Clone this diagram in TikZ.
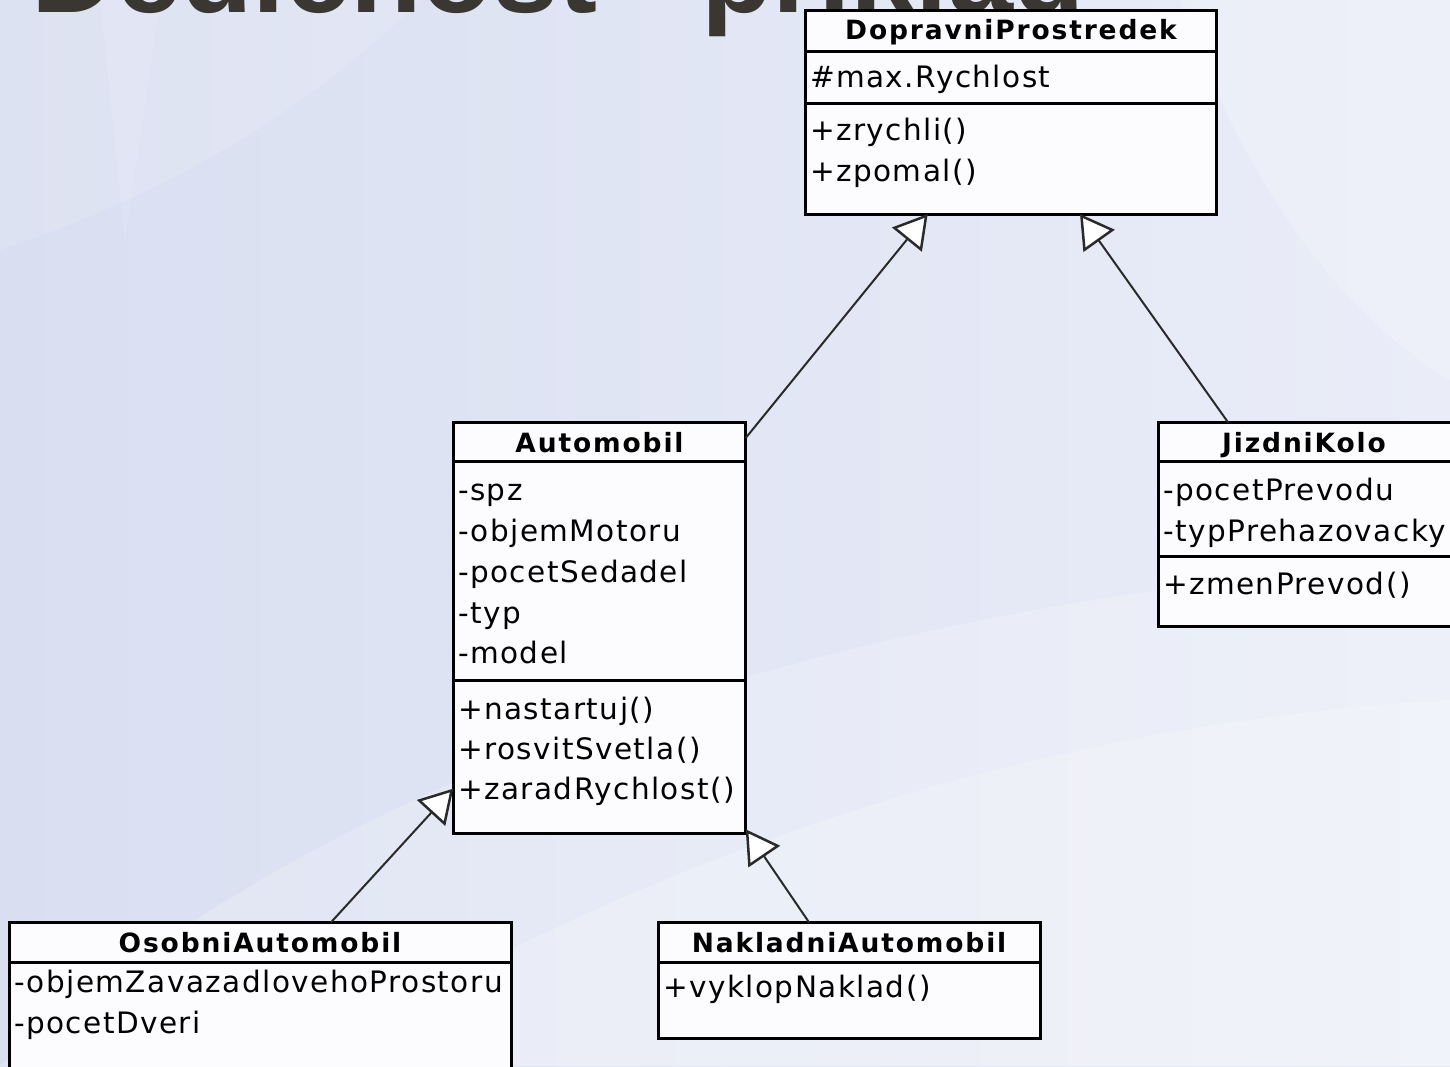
\documentclass[tikz,border=0pt]{standalone}
\usepackage{fontspec}
\setmainfont{DejaVu Sans}
\newfontfamily\titlefont{Liberation Sans}
\newfontfamily\umlfont{DejaVu Sans}[LetterSpace=5]
\newfontfamily\umlheadfont{DejaVu Sans}[LetterSpace=7]
\usetikzlibrary{arrows.meta,calc}

\definecolor{bgleft}{HTML}{D9DFF1}
\definecolor{bgright}{HTML}{EAEDF8}
\definecolor{titlegray}{HTML}{3A3733}
\definecolor{boxfill}{HTML}{FCFCFE}
\definecolor{linkgray}{HTML}{2A2A2A}

\tikzset{
  classbox/.style={draw=black, fill=boxfill, line width=3pt, inner sep=0pt,
    outer sep=0pt, anchor=north west},
  divider/.style={draw=black, line width=3pt},
  member/.style={anchor=base west, inner sep=0pt, outer sep=0pt,
    font=\umlfont\fontsize{29.5}{30}\selectfont},
  classname/.style={anchor=base, inner sep=0pt, outer sep=0pt,
    font=\umlheadfont\bfseries\fontsize{26.5}{30}\selectfont},
  inherits/.style={draw=linkgray, line width=2pt,
    -{Triangle[length=33pt,width=38pt,fill=white,line width=2.5pt]}},
  swoosh/.style={fill=white, opacity=0.2},
}

\begin{document}
\begin{tikzpicture}[x=1pt,y=-1pt]
\useasboundingbox (0,0) rectangle (1450,1066);
\clip (0,0) rectangle (1450,1066);

% slide background
\shade[left color=bgleft, right color=bgright] (0,0) rectangle (1450,1066);
\fill[swoosh] (0,1066) .. controls (350,760) and (850,600) .. (1450,560)
  -- (1450,1066) -- cycle;
\fill[swoosh] (300,1066) .. controls (700,820) and (1100,720) .. (1450,700)
  -- (1450,1066) -- cycle;
\fill[swoosh] (1180,0) .. controls (1250,200) and (1350,320) .. (1450,380)
  -- (1450,0) -- cycle;
\fill[white, opacity=0.12] (100,0) -- (160,0) -- (125,240) -- cycle;
\fill[white, opacity=0.12] (0,250) .. controls (150,200) and (300,120) .. (420,0)
  -- (0,0) -- cycle;

% slide title
\node[anchor=base west, inner sep=0pt, text=titlegray,
  font=\titlefont\bfseries\fontsize{117}{120}\selectfont]
  (title) at (31.5,12.5) {Dědičnost - příklad};

% class DopravniProstredek
\node[classbox, minimum width=411pt, minimum height=204pt] (dp) at (805.5,10) {};
\draw[divider] ([yshift=-41.5pt]dp.north west) -- ([yshift=-41.5pt]dp.north east);
\draw[divider] ([yshift=-93.3pt]dp.north west) -- ([yshift=-93.3pt]dp.north east);
\node[classname] (dpname) at (1011,39) {DopravniProstredek};
\node[member] (dpa1) at (810,87) {\#max.Rychlost};
\node[member] (dpm1) at (810,140) {+zrychli()};
\node[member] (dpm2) at (810,181) {+zpomal()};

% class Automobil
\node[classbox, minimum width=292.4pt, minimum height=410.6pt] (au) at (453.3,422.7) {};
\draw[divider] ([yshift=-39pt]au.north west) -- ([yshift=-39pt]au.north east);
\draw[divider] ([yshift=-257.3pt]au.north west) -- ([yshift=-257.3pt]au.north east);
\node[classname] (auname) at (599.5,452) {Automobil};
\node[member] (aua1) at (458,500) {-spz};
\node[member] (aua2) at (458,541) {-objemMotoru};
\node[member] (aua3) at (458,582) {-pocetSedadel};
\node[member] (aua4) at (458,623) {-typ};
\node[member] (aua5) at (458,663) {-model};
\node[member] (aum1) at (458,719) {+nastartuj()};
\node[member] (aum2) at (458,759) {+rosvitSvetla()};
\node[member] (aum3) at (458,799) {+zaradRychlost()};

% class JizdniKolo
\node[classbox, minimum width=296pt, minimum height=204pt] (jk) at (1158,422.7) {};
\draw[divider] ([yshift=-39pt]jk.north west) -- ([yshift=-39pt]jk.north east);
\draw[divider] ([yshift=-134pt]jk.north west) -- ([yshift=-134pt]jk.north east);
\node[classname] (jkname) at (1304,452) {JizdniKolo};
\node[member] (jka1) at (1163,500) {-pocetPrevodu};
\node[member] (jka2) at (1163,541) {-typPrehazovacky};
\node[member] (jkm1) at (1163,594) {+zmenPrevod()};

% class OsobniAutomobil
\node[classbox, minimum width=502.5pt, minimum height=170pt] (os) at (9,922.3) {};
\draw[divider] ([yshift=-40pt]os.north west) -- ([yshift=-40pt]os.north east);
\node[classname] (osname) at (260,952) {OsobniAutomobil};
\node[member] (osa1) at (14,992) {-objemZavazadlovehoProstoru};
\node[member] (osa2) at (14,1033) {-pocetDveri};

% class NakladniAutomobil
\node[classbox, minimum width=381.7pt, minimum height=116pt] (na) at (658.3,922.3) {};
\draw[divider] ([yshift=-40pt]na.north west) -- ([yshift=-40pt]na.north east);
\node[classname] (naname) at (849,952) {NakladniAutomobil};
\node[member] (nam1) at (663,997) {+vyklopNaklad()};

% generalisation links
\draw[inherits] ([yshift=-15.3pt]au.north east) -- ([xshift=122.2pt]dp.south west);
\draw[inherits] ([xshift=70.3pt]jk.north west) -- ([xshift=274.5pt]dp.south west);
\draw[inherits] ([xshift=322pt]os.north west) -- ([yshift=-365.9pt]au.north west);
\draw[inherits] ([xshift=150.7pt]na.north west) -- ([yshift=4pt]au.south east);
\end{tikzpicture}
\end{document}
